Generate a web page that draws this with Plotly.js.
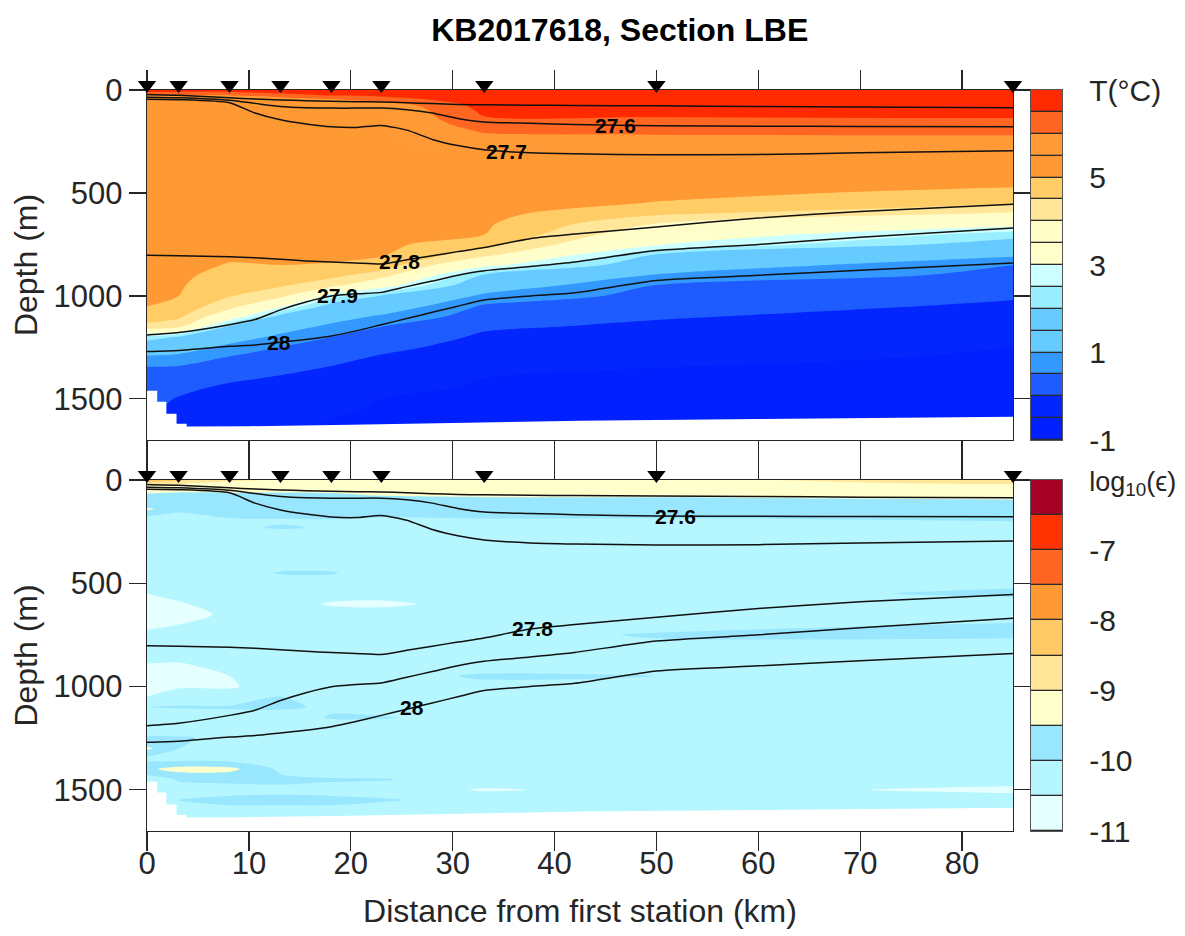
<!DOCTYPE html>
<html><head><meta charset="utf-8">
<script src="https://cdn.plot.ly/plotly-3.0.1.min.js"></script>
<style>html,body{margin:0;padding:0;background:#fff}</style>
</head><body><div id="chart" style="width:1185px;height:936px"></div>
<script>
// ---------------- DATA ----------------
const stationKm = [0, 3.1, 8.1, 13.1, 18.1, 23.0, 33.1, 50.0, 85.0];

// Temperature (°C): rows = depthT, columns = stations
const depthT = [0,25,50,75,100,125,150,175,200,250,300,350,400,450,500,550,600,650,700,750,800,850,900,950,1000,1050,1100,1150,1200,1250,1300,1350,1400,1450,1500,1550,1600,1650,1700];
const tempC = [
 [6.8, 6.8, 6.8, 6.8, 6.8, 6.9, 6.95, 6.95, 6.95],
 [6.0, 6.0, 6.0, 6.33, 6.55, 6.61, 6.86, 6.87, 6.87],
 [5.45, 5.45, 5.48, 5.5, 5.83, 6.2, 6.78, 6.78, 6.79],
 [5.45, 5.45, 5.45, 5.45, 5.48, 5.63, 6.69, 6.7, 6.71],
 [5.45, 5.45, 5.45, 5.45, 5.45, 5.48, 6.6, 6.62, 6.63],
 [5.45, 5.45, 5.45, 5.45, 5.45, 5.45, 6.52, 6.53, 6.55],
 [5.45, 5.45, 5.45, 5.45, 5.45, 5.45, 6.37, 6.41, 6.44],
 [5.4, 5.4, 5.45, 5.45, 5.45, 5.45, 6.21, 6.25, 6.28],
 [5.4, 5.4, 5.45, 5.45, 5.45, 5.45, 6.05, 6.09, 6.13],
 [5.4, 5.4, 5.4, 5.4, 5.45, 5.45, 5.77, 5.83, 5.81],
 [5.4, 5.4, 5.4, 5.4, 5.4, 5.45, 5.5, 5.6, 5.5],
 [5.35, 5.35, 5.4, 5.4, 5.4, 5.4, 5.44, 5.43, 5.36],
 [5.35, 5.35, 5.4, 5.4, 5.4, 5.4, 5.38, 5.32, 5.23],
 [5.3, 5.3, 5.35, 5.4, 5.4, 5.4, 5.32, 5.21, 5.09],
 [5.3, 5.3, 5.35, 5.35, 5.4, 5.4, 5.25, 5.1, 4.89],
 [5.3, 5.3, 5.35, 5.35, 5.3, 5.3, 5.19, 4.98, 4.54],
 [5.25, 5.25, 5.25, 5.35, 5.3, 5.3, 5.13, 4.6, 3.93],
 [5.25, 5.25, 5.25, 5.25, 5.3, 5.3, 5.07, 3.98, 3.25],
 [5.2, 5.2, 5.25, 5.25, 5.25, 5.2, 5.01, 3.51, 2.28],
 [5.2, 5.2, 5.15, 5.15, 5.15, 5.12, 4.68, 3.05, 1.65],
 [5.2, 5.2, 5.08, 5.08, 5.08, 5.05, 4.17, 1.98, 1.13],
 [5.15, 5.15, 4.97, 5.0, 4.97, 4.8, 3.23, 1.46, 0.5],
 [5.1, 5.1, 4.82, 4.77, 4.63, 4.25, 1.9, 0.95, 0.35],
 [5.1, 5.05, 4.68, 4.55, 4.17, 3.33, 1.4, 0.48, 0.2],
 [5.05, 5.0, 4.53, 4.17, 2.75, 1.95, 0.875, 0.33, 0.05],
 [5.0, 4.8, 4.21, 3.14, 1.7, 1.42, 0.43, 0.19, -0.07],
 [4.72, 4.6, 3.5, 1.76, 1.26, 0.92, 0.24, 0.04, -0.18],
 [4.36, 4.13, 1.89, 1.29, 0.86, 0.5, 0.06, -0.08, -0.29],
 [2.31, 1.94, 1.33, 0.86, 0.5, 0.31, -0.07, -0.18, -0.39],
 [1.47, 1.35, 0.83, 0.5, 0.31, 0.12, -0.18, -0.29, -0.5],
 [0.88, 0.8, 0.46, 0.31, 0.12, -0.05, -0.29, -0.39, -0.55],
 [0.45, 0.43, 0.27, 0.12, -0.03, -0.16, -0.39, -0.5, -0.6],
 [0.33, 0.27, 0.08, -0.05, -0.1, -0.27, -0.5, -0.55, -0.65],
 [0.2, 0.1, -0.1, -0.15, -0.2, -0.39, -0.55, -0.6, -0.68],
 [0.15, -0.03, -0.2, -0.25, -0.3, -0.5, -0.6, -0.65, -0.7],
 [0.1, -0.1, -0.3, -0.35, -0.4, -0.55, -0.65, -0.7, -0.72],
 [0.1, -0.15, -0.35, -0.4, -0.5, -0.6, -0.7, -0.72, -0.75],
 [0.1, -0.15, -0.4, -0.45, -0.55, -0.65, -0.72, -0.75, -0.78],
 [0.1, -0.15, -0.4, -0.5, -0.6, -0.65, -0.75, -0.78, -0.8]
];

// log10(epsilon): rows = depthEps, columns = stations
const depthEps = [0,15,30,50,70,90,110,140,170,200,230,260,300,350,400,450,500,550,600,650,700,750,800,850,900,950,1000,1050,1100,1150,1200,1250,1300,1350,1400,1450,1500,1550,1600,1650,1700];
const log10Eps = [
 [-8.0, -8.4, -8.8, -9.1, -9.2, -9.2, -9.25, -9.1, -8.8],
 [-8.6, -8.9, -9.2, -9.3, -9.3, -9.3, -9.3, -9.2, -8.9],
 [-9.0, -9.2, -9.3, -9.3, -9.35, -9.35, -9.3, -9.3, -9.2],
 [-9.2, -9.3, -9.35, -9.4, -9.4, -9.35, -9.35, -9.35, -9.3],
 [-9.6, -9.7, -9.6, -9.6, -9.55, -9.45, -9.4, -9.4, -9.35],
 [-9.8, -9.8, -9.8, -9.7, -9.7, -9.6, -9.55, -9.55, -9.45],
 [-9.9, -9.85, -9.8, -9.8, -9.8, -9.8, -9.75, -9.7, -9.7],
 [-9.4, -9.85, -9.85, -9.9, -9.85, -9.85, -9.8, -9.8, -9.75],
 [-9.95, -10.1, -9.9, -9.85, -9.9, -9.9, -9.85, -9.8, -9.8],
 [-10.2, -10.2, -10.1, -10.1, -10.05, -10.2, -10.1, -10.2, -10.0],
 [-10.3, -10.3, -10.2, -9.9, -10.1, -10.3, -10.3, -10.3, -10.2],
 [-10.3, -10.3, -10.3, -10.3, -10.3, -10.3, -10.3, -10.3, -10.3],
 [-10.3, -10.3, -10.3, -10.3, -10.3, -10.3, -10.3, -10.3, -10.3],
 [-10.3, -10.3, -10.3, -10.3, -10.3, -10.3, -10.0, -10.3, -10.3],
 [-10.3, -10.3, -10.3, -10.3, -10.3, -10.3, -10.3, -10.3, -10.3],
 [-10.3, -10.3, -10.3, -9.95, -9.95, -10.3, -10.3, -10.3, -10.3],
 [-10.3, -10.3, -10.3, -10.3, -10.3, -10.3, -10.3, -10.3, -10.1],
 [-10.5, -10.35, -10.3, -10.3, -10.3, -10.3, -10.3, -10.2, -9.9],
 [-10.6, -10.55, -10.3, -10.3, -10.55, -10.6, -10.3, -10.3, -10.2],
 [-10.7, -10.6, -10.45, -10.3, -10.3, -10.3, -10.3, -10.3, -10.3],
 [-10.6, -10.5, -10.3, -10.3, -10.3, -10.3, -10.3, -10.2, -9.95],
 [-10.4, -10.3, -10.3, -10.3, -10.3, -10.3, -10.2, -9.95, -9.95],
 [-10.3, -10.3, -10.3, -10.3, -10.3, -10.3, -10.3, -10.1, -10.1],
 [-10.3, -10.3, -10.3, -10.3, -10.3, -10.3, -10.3, -10.3, -10.3],
 [-10.55, -10.6, -10.3, -10.3, -10.3, -10.3, -10.3, -10.3, -10.3],
 [-10.7, -10.7, -10.5, -10.3, -10.3, -10.3, -9.9, -10.0, -10.3],
 [-10.6, -10.55, -10.55, -10.3, -10.3, -10.3, -10.2, -10.3, -10.3],
 [-10.5, -10.3, -10.3, -10.0, -10.0, -10.1, -10.3, -10.3, -10.3],
 [-10.0, -9.95, -9.95, -9.9, -10.1, -10.3, -10.3, -10.3, -10.3],
 [-10.3, -10.3, -10.2, -10.3, -9.95, -9.95, -10.3, -10.3, -10.3],
 [-10.2, -10.3, -10.3, -10.3, -10.3, -10.3, -10.3, -10.3, -10.3],
 [-9.95, -9.95, -10.1, -10.3, -10.3, -10.3, -10.3, -10.3, -10.3],
 [-9.4, -10.0, -10.3, -10.3, -10.3, -10.3, -10.3, -10.3, -10.3],
 [-10.15, -10.2, -10.25, -10.3, -10.3, -10.3, -10.3, -10.3, -10.3],
 [-9.6, -9.3, -9.35, -10.1, -10.3, -10.3, -10.3, -10.3, -10.3],
 [-10.3, -9.95, -9.9, -9.9, -9.95, -9.97, -10.2, -10.3, -10.3],
 [-10.3, -10.2, -10.15, -10.1, -10.15, -10.2, -10.55, -10.35, -10.6],
 [-10.3, -10.0, -9.9, -9.9, -9.9, -9.95, -10.2, -10.3, -10.3],
 [-10.3, -10.3, -10.1, -10.1, -10.1, -10.2, -10.3, -10.3, -10.3],
 [-10.3, -10.3, -10.3, -10.3, -10.3, -10.3, -10.3, -10.3, -10.3],
 [-10.3, -10.3, -10.3, -10.3, -10.3, -10.3, -10.3, -10.3, -10.3]
];

// Isopycnals (sigma): depth (m) along distance
const sigmaKm = [0, 3.1, 8.1, 10.6, 13.1, 15.6, 18.1, 20.5, 23, 25.5, 28, 30.5, 33.1, 37.6, 42, 50, 60, 70, 85];
const sigma275 = [22, 26, 38, 44, 48, 52, 55, 57, 58, 62, 66, 70, 72, 74, 75, 77, 80, 83, 86];
const sigma276 = [35, 38, 50, 65, 80, 86, 88, 88, 88, 96, 112, 138, 155, 162, 168, 174, 176, 177, 178];
const sigma277 = [45, 47, 62, 112, 145, 165, 179, 182, 172, 195, 240, 270, 290, 305, 310, 315, 313, 305, 295];
const sigma278 = [803, 805, 810, 815, 822, 830, 836, 840, 845, 825, 805, 785, 765, 722, 700, 665, 622, 590, 555];
const sigma279 = [1190, 1178, 1140, 1115, 1068, 1030, 1001, 990, 983, 955, 928, 900, 878, 857, 835, 780, 750, 715, 670];
const sigma280 = [1270, 1265, 1245, 1238, 1225, 1212, 1195, 1170, 1140, 1110, 1080, 1050, 1020, 1000, 985, 925, 900, 875, 840];
const sigmaNames = ['27.5', '27.6', '27.7', '27.8', '27.9', '28'];

// Deepest data along the section (m)
const bottomKm = [0, 1.0, 1.0, 1.9, 1.9, 2.9, 2.9, 3.9, 3.9, 10, 20, 30, 42.5, 60, 85];
const bottomDepth = [1461, 1461, 1514, 1514, 1572, 1572, 1621, 1621, 1635, 1633, 1626, 1616, 1606, 1598, 1587];

// Contour labels: which isopycnal and where along the section (km)
const topLabelNames = ['27.6', '27.7', '27.8', '27.9', '28'];
const topLabelKm = [46.0, 35.3, 24.8, 18.7, 13.0];
const botLabelNames = ['27.6', '27.8', '28'];
const botLabelKm = [51.9, 37.8, 26.0];

// Colour levels
const tempEdges = [-1, -0.5, 0, 0.5, 1, 1.5, 2, 2.5, 3, 3.5, 4, 4.5, 5, 5.5, 6, 6.5, 7];
const tempColors = ['#0020ff', '#0326ff', '#1f5cff', '#3399ff', '#66ccff', '#66c9ff', '#99eeff', '#ccffff',
                    '#ffffcc', '#fffdc8', '#ffe699', '#ffcc66', '#ff9933', '#ff9a36', '#ff6622', '#ff2a00'];
const tempTickVals = [-1, 1, 3, 5, 7];
const tempTickText = ['-1', '1', '3', '5', 'T(°C)'];

const epsEdges = [-11, -10.5, -10, -9.5, -9, -8.5, -8, -7.5, -7, -6.5, -6];
const epsColors = ['#e6ffff', '#b5f6ff', '#99e6ff', '#ffffcc', '#ffe699', '#ffc966', '#ff9933', '#ff6622', '#ff3300', '#a50026'];
const epsTickVals = [-11, -10, -9, -8, -7, -6];
const epsTickText = ['-11', '-10', '-9', '-8', '-7', '<span style="font-size:27px">log<sub>10</sub>(ϵ)</span>'];

// ---------------- STYLE ----------------
const FONT = 'Liberation Sans, Arial, Helvetica, sans-serif';
const AX = '#262626';
const W = 1185, H = 936;
const px = (a, b) => [a / W, b / W];
const py = (top, bottom) => [1 - bottom / H, 1 - top / H];
const plotX = px(147, 1013);
const topY = py(90, 440);
const botY = py(480, 831);
const topStrip = py(75, 95);
const botStrip = py(465, 485);
const cbX = px(1031, 1062);
const TICKF = {family: FONT, size: 31, color: AX};
const CBF = {family: FONT, size: 30, color: AX};
const TITLEF = {family: FONT, size: 32, color: AX};

function scaleOf(colors) {
  return colors.map((c, i) => [i / (colors.length - 1), c]);
}
function lineDepthAt(arr, km) {
  for (let i = 0; i < sigmaKm.length - 1; i++) {
    if (km >= sigmaKm[i] && km <= sigmaKm[i + 1]) {
      const t = (km - sigmaKm[i]) / (sigmaKm[i + 1] - sigmaKm[i]);
      return arr[i] + t * (arr[i + 1] - arr[i]);
    }
  }
  return arr[arr.length - 1];
}
const sigmaLines = [sigma275, sigma276, sigma277, sigma278, sigma279, sigma280];
const maxDepth = 1700;

const traces = [];
function panel(xa, ya, stripAxis, z, depth, edges, colors) {
  const cs = edges[1] - edges[0];
  traces.push({
    type: 'contour', x: stationKm, y: depth, z: z, xaxis: xa, yaxis: ya,
    autocontour: false,
    contours: {start: edges[1], end: edges[edges.length - 2], size: cs, coloring: 'fill', showlines: false},
    colorscale: scaleOf(colors), showscale: false,
    line: {width: 0, smoothing: 0.9}, hoverinfo: 'skip'
  });
  traces.push({
    type: 'scatter', mode: 'lines', xaxis: xa, yaxis: ya,
    x: bottomKm.concat([bottomKm[bottomKm.length - 1], bottomKm[0]]),
    y: bottomDepth.concat([maxDepth + 20, maxDepth + 20]),
    fill: 'toself', fillcolor: '#ffffff', line: {width: 0, color: '#ffffff'}, hoverinfo: 'skip', showlegend: false
  });
  sigmaLines.forEach((arr, i) => {
    traces.push({
      type: 'scatter', mode: 'lines', xaxis: xa, yaxis: ya, x: sigmaKm, y: arr,
      name: sigmaNames[i], line: {color: '#111111', width: 1.5, shape: 'spline', smoothing: 0.6},
      hoverinfo: 'skip', showlegend: false
    });
  });
  // station markers, drawn in a thin strip just above the panel
  traces.push({
    type: 'scatter', mode: 'markers', xaxis: xa, yaxis: stripAxis, x: stationKm,
    y: stationKm.map(() => 0), cliponaxis: false,
    marker: {symbol: 'triangle-down', size: 16, color: '#000000'}, hoverinfo: 'skip', showlegend: false
  });
}
panel('x', 'y', 'y5', tempC, depthT, tempEdges, tempColors);
panel('x2', 'y2', 'y6', log10Eps, depthEps, epsEdges, epsColors);

function colorbarTrace(xa, ya, edges, colors) {
  traces.push({
    type: 'heatmap', xaxis: xa, yaxis: ya, x: [0, 1], y: edges,
    z: colors.map((c, i) => [i]), zmin: 0, zmax: colors.length - 1,
    colorscale: scaleOf(colors), showscale: false, ygap: 1.3, hoverinfo: 'skip'
  });
}
colorbarTrace('x3', 'y3', tempEdges, tempColors);
colorbarTrace('x4', 'y4', epsEdges, epsColors);

const annotations = [];
function addLabels(names, kms, xa, ya) {
  names.forEach((n, i) => {
    const arr = sigmaLines[sigmaNames.indexOf(n)];
    annotations.push({
      xref: xa, yref: ya, x: kms[i], y: lineDepthAt(arr, kms[i]), text: '<b>' + n + '</b>',
      showarrow: false, font: {family: FONT, size: 21, color: '#000'}
    });
  });
}
addLabels(topLabelNames, topLabelKm, 'x', 'y');
addLabels(botLabelNames, botLabelKm, 'x2', 'y2');

const baseX = {
  range: [0, 85], tick0: 0, dtick: 10, ticks: 'outside', ticklen: 19, tickwidth: 1.3, tickcolor: AX,
  showline: true, linecolor: AX, linewidth: 1.3, mirror: 'ticks', showgrid: false, zeroline: false,
  tickfont: TICKF, domain: plotX
};
const baseY = {
  range: [maxDepth, 0], tickvals: [0, 500, 1000, 1500], ticks: 'outside', ticklen: 17, tickwidth: 1.3, tickcolor: AX,
  showline: true, linecolor: AX, linewidth: 1.3, mirror: 'ticks', showgrid: false, zeroline: false,
  tickfont: TICKF
};
const stripY = {range: [-1, 1], visible: false, fixedrange: true, showgrid: false, zeroline: false};
const cbXax = {domain: cbX, range: [0, 1], showticklabels: false, ticks: '', showgrid: false, zeroline: false,
  showline: true, linecolor: '#555', linewidth: 1.2, mirror: true, fixedrange: true};
const cbYax = {side: 'right', ticks: '', showgrid: false, zeroline: false, showline: true, linecolor: '#555',
  linewidth: 1.2, mirror: true, tickfont: CBF, ticklabelstandoff: 20};

const layout = {
  width: W, height: H, margin: {l: 0, r: 0, t: 0, b: 0},
  paper_bgcolor: '#ffffff', plot_bgcolor: 'rgba(0,0,0,0)', showlegend: false,
  title: {text: '<b>KB2017618, Section LBE</b>', x: 0.523, xanchor: 'center', y: 0.968, yanchor: 'middle',
          font: {family: FONT, size: 32, color: '#000'}},
  xaxis: Object.assign({}, baseX, {anchor: 'y', showticklabels: false}),
  yaxis: Object.assign({}, baseY, {domain: topY, anchor: 'x',
          title: {text: 'Depth (m)', font: TITLEF, standoff: 6}}),
  xaxis2: Object.assign({}, baseX, {anchor: 'y2', ticklabelstandoff: -15,
          title: {text: 'Distance from first station (km)', font: TITLEF, standoff: 20}}),
  yaxis2: Object.assign({}, baseY, {domain: botY, anchor: 'x2',
          title: {text: 'Depth (m)', font: TITLEF, standoff: 6}}),
  xaxis3: Object.assign({}, cbXax, {anchor: 'y3'}),
  yaxis3: Object.assign({}, cbYax, {anchor: 'x3', domain: topY, range: [tempEdges[0], tempEdges[tempEdges.length - 1]],
          tickvals: tempTickVals, ticktext: tempTickText}),
  xaxis4: Object.assign({}, cbXax, {anchor: 'y4'}),
  yaxis4: Object.assign({}, cbYax, {anchor: 'x4', domain: botY, range: [epsEdges[0], epsEdges[epsEdges.length - 1]],
          tickvals: epsTickVals, ticktext: epsTickText}),
  yaxis5: Object.assign({}, stripY, {domain: topStrip, anchor: 'x'}),
  yaxis6: Object.assign({}, stripY, {domain: botStrip, anchor: 'x2'}),
  shapes: [
    {type: 'rect', xref: 'x3 domain', yref: 'y3 domain', x0: 0, x1: 1, y0: 0, y1: 1, layer: 'below', fillcolor: '#2a2a2a', line: {width: 0}},
    {type: 'rect', xref: 'x4 domain', yref: 'y4 domain', x0: 0, x1: 1, y0: 0, y1: 1, layer: 'below', fillcolor: '#2a2a2a', line: {width: 0}}
  ],
  annotations: annotations
};

Plotly.newPlot('chart', traces, layout, {staticPlot: true, displayModeBar: false});
</script>
</body></html>
